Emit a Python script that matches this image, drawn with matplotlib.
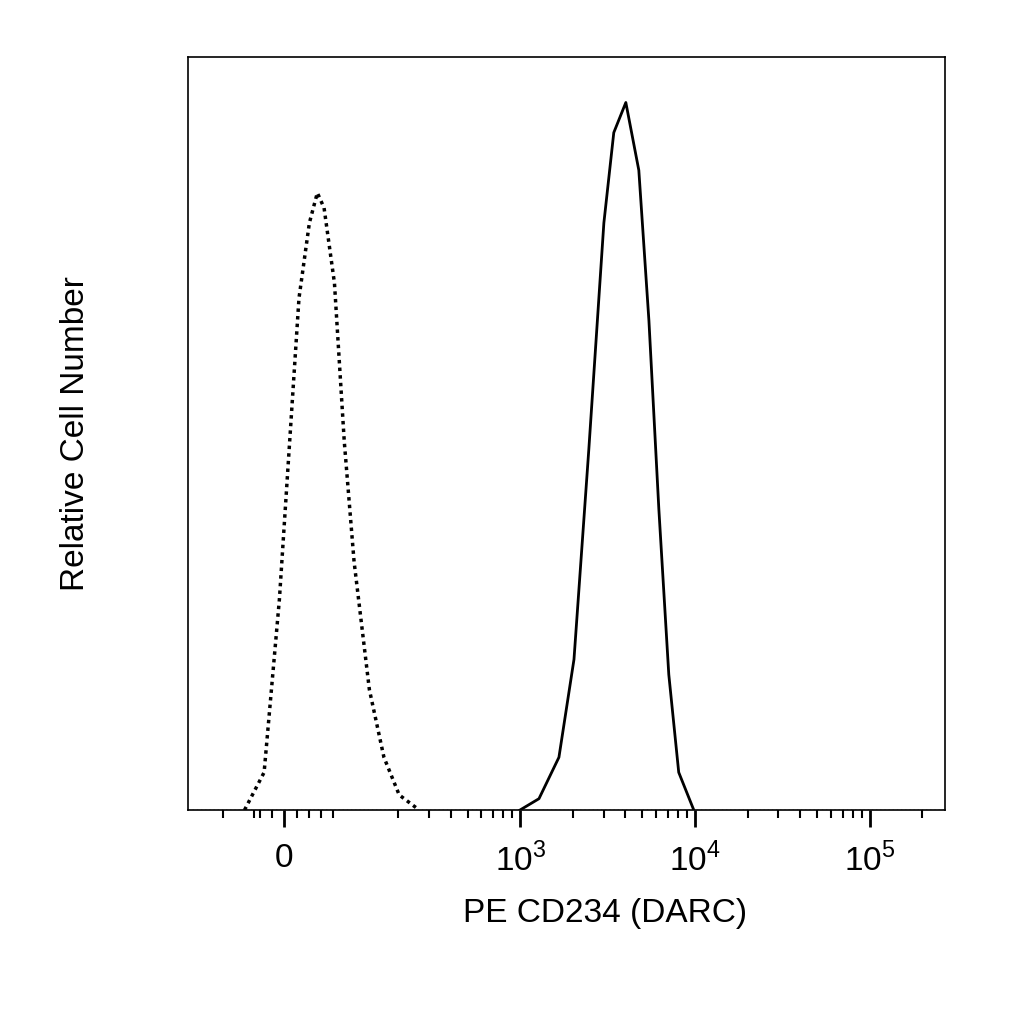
import matplotlib
matplotlib.use("Agg")
import matplotlib.pyplot as plt
import numpy as np

# Isotype control (dotted) and PE CD234 stained (solid)
iso_x = [-65, -33, -8, 8, 24, 41, 54, 65, 82, 98, 112, 137, 166, 203, 264]
iso_y = [0, 5, 28, 48, 68, 78, 82, 80, 70, 49, 33, 16, 7, 2, 0]
pe_x = [998, 1280, 1665, 2030, 2470, 3010, 3430, 4020, 4770, 5450, 6210, 7080, 8070, 9840]
pe_y = [0, 1.5, 7, 20, 48, 78, 90, 94, 85, 65, 40, 18, 5, 0]
tick_vals = [0, 1e3, 1e4, 1e5]
tick_labels = ["0", r"10$^{\mathregular{3}}$", r"10$^{\mathregular{4}}$", r"10$^{\mathregular{5}}$"]

plt.rcParams['font.family'] = ['Liberation Sans', 'DejaVu Sans']
plt.rcParams['mathtext.fontset'] = 'custom'
plt.rcParams['mathtext.rm'] = 'Liberation Sans'
fig = plt.figure(figsize=(10.24, 10.24), dpi=100)
ax = fig.add_axes([0.184, 0.209, 0.739, 0.735])
ax.set_xscale('symlog', linthresh=100, linscale=0.315)
ax.plot(iso_x, iso_y, color='black', ls=(0, (1, 1.2)), lw=2.5)
ax.plot(pe_x, pe_y, color='black', lw=2)
ax.plot([-158, 2.7e5], [0, 0], color='black', ls=(0, (1, 2)), lw=1)
ax.set_xlim(-158, 2.7e5)
ax.set_ylim(0, 100)
ax.set_yticks([])
ax.set_xticks(tick_vals)
ax.set_xticklabels(tick_labels, fontsize=24)
minor = [-100, -50] + list(range(-40, 100, 20)) + [v * d for d in (100, 1000, 10000, 100000) for v in range(2, 10) if v * d < 2.7e5]
ax.set_xticks(minor, minor=True)
ax.tick_params(axis='x', which='major', length=12, width=2, direction='out', pad=12)
ax.tick_params(axis='x', which='minor', length=6, width=1.5, direction='out')
ax.set_xlabel("PE CD234 (DARC)", fontsize=24, labelpad=14, x=0.55)
ax.set_ylabel("Relative Cell Number", fontsize=24, labelpad=70)
for s in ax.spines.values():
    s.set_linewidth(1.2)
fig.savefig("out.png", dpi=100)
